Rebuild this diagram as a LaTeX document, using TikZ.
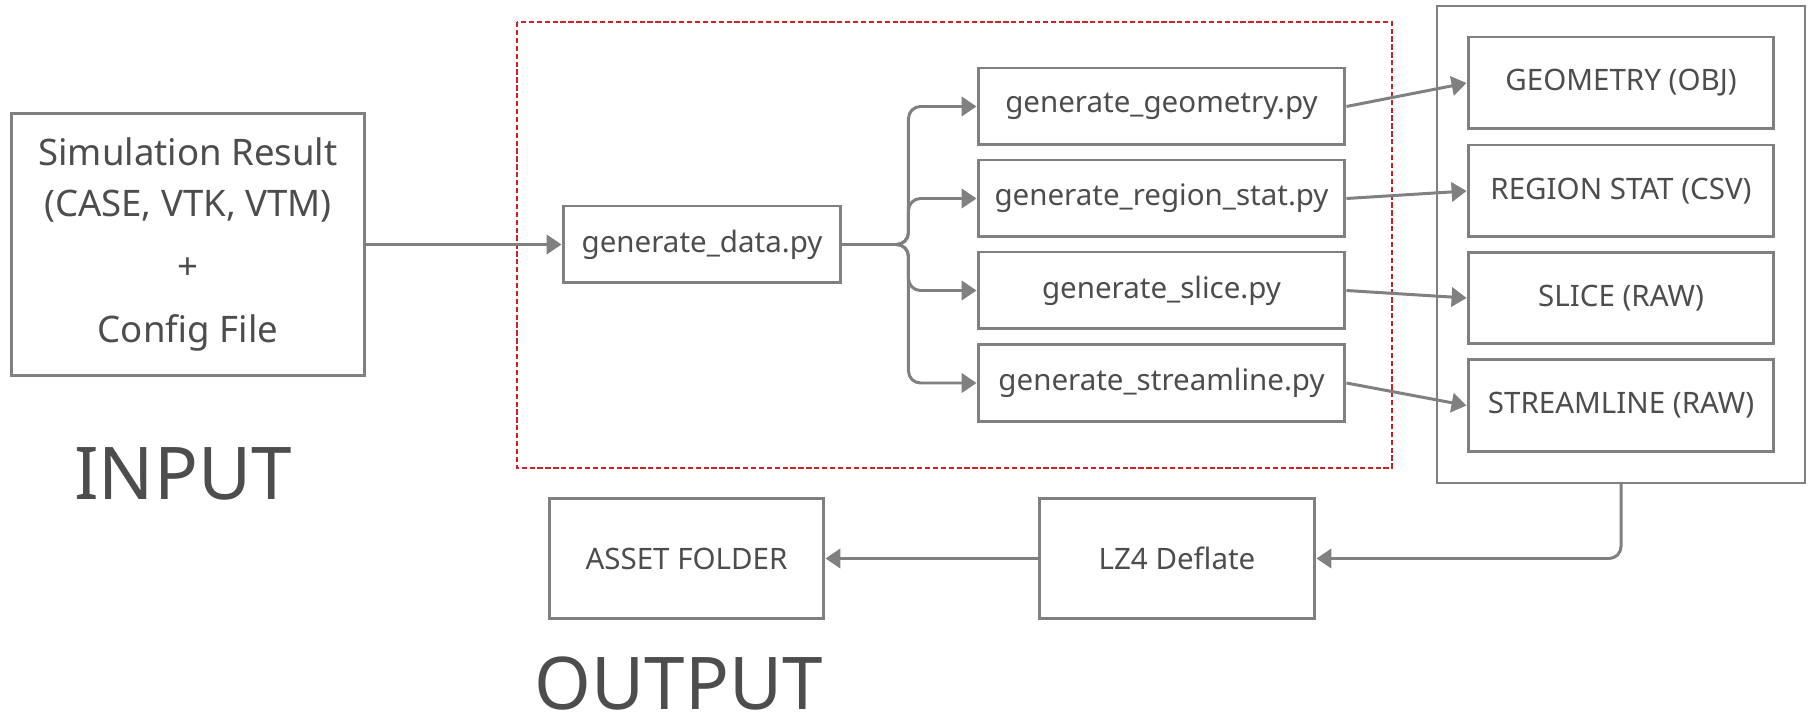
\documentclass[tikz,border=0pt]{standalone}
\usepackage{fontspec}
\setmainfont{Noto Sans}
\usetikzlibrary{arrows.meta,positioning}
\definecolor{linegray}{HTML}{808080}
\definecolor{textgray}{HTML}{4D4D4D}
\definecolor{dashred}{HTML}{D0202A}
\tikzstyle{box}=[rectangle, draw=linegray, line width=1.7pt, text=textgray, inner sep=0pt, anchor=center, font=\fontsize{16.8}{20}\selectfont]
\tikzstyle{script}=[box, minimum width=7.34cm, minimum height=1.54cm]
\tikzstyle{asset}=[box, minimum width=6.12cm, minimum height=1.84cm]
\tikzstyle{conn}=[draw=linegray, line width=1.7pt, -{Triangle[length=8.5pt,width=11pt]}]
\tikzstyle{title}=[text=textgray, inner sep=0pt, font=\fontsize{41.4}{48}\selectfont]

\begin{document}
\begin{tikzpicture}[x=0.02cm, y=-0.02cm]
	\useasboundingbox (0,0) rectangle (1812,719);

	% input side
	\node[box, minimum width=7.08cm, minimum height=5.26cm, align=center, font=\fontsize{20.8}{29.2}\selectfont](input) at (188,244.5)
		{Simulation Result\\(CASE, VTK, VTM)\\[6.5pt]+\\[6.5pt]Config File};
	\node[title, below of=input, node distance=4.58cm, xshift=-0.1cm](inLabel) {INPUT};

	% processing scripts
	\draw[dashred, line width=1.2pt, dash pattern=on 3pt off 1.5pt] (517,22) rectangle (1392,468);
	\node[box, minimum width=5.56cm, minimum height=1.54cm](genData) at (702,244.5) {generate\_data.py};
	\node[script](genGeom) at (1161.5,106.5) {generate\_geometry.py};
	\node[script](genRegion) at (1161.5,198.5) {generate\_region\_stat.py};
	\node[script](genSlice) at (1161.5,290.5) {generate\_slice.py};
	\node[script](genStream) at (1161.5,383) {generate\_streamline.py};

	% generated assets
	\node[box, line width=1.1pt, minimum width=7.36cm, minimum height=9.54cm](store) at (1621,244.5) {};
	\node[asset](geom) at (1621,83) {GEOMETRY (OBJ)};
	\node[asset](region) at (1621,191) {REGION STAT (CSV)};
	\node[asset](slice) at (1621,298) {SLICE (RAW)};
	\node[asset](stream) at (1621,405.5) {STREAMLINE (RAW)};

	% output side
	\node[box, minimum width=5.52cm, minimum height=2.42cm](lz4) at (1177,558.5) {LZ4 Deflate};
	\node[box, minimum width=5.5cm, minimum height=2.42cm](folder) at (686.5,558.5) {ASSET FOLDER};
	\node[title, below of=folder, node distance=2.5cm, xshift=-0.15cm](outLabel) {OUTPUT};

	\draw[conn] (input.east) -- (genData.west);
	\draw[conn, rounded corners=0.24cm] (genData.east) -- ++(66,0) |- (genGeom.west);
	\draw[conn, rounded corners=0.24cm] (genData.east) -- ++(66,0) |- (genRegion.west);
	\draw[conn, rounded corners=0.24cm] (genData.east) -- ++(66,0) |- (genSlice.west);
	\draw[conn, rounded corners=0.24cm] (genData.east) -- ++(66,0) |- (genStream.west);
	\draw[conn] (genGeom.east) -- (geom.west);
	\draw[conn] (genRegion.east) -- (region.west);
	\draw[conn] (genSlice.east) -- (slice.west);
	\draw[conn] (genStream.east) -- (stream.west);
	\draw[conn, rounded corners=0.24cm] (store.south) |- (lz4.east);
	\draw[conn] (lz4.west) -- (folder.east);

\end{tikzpicture}
\end{document}
